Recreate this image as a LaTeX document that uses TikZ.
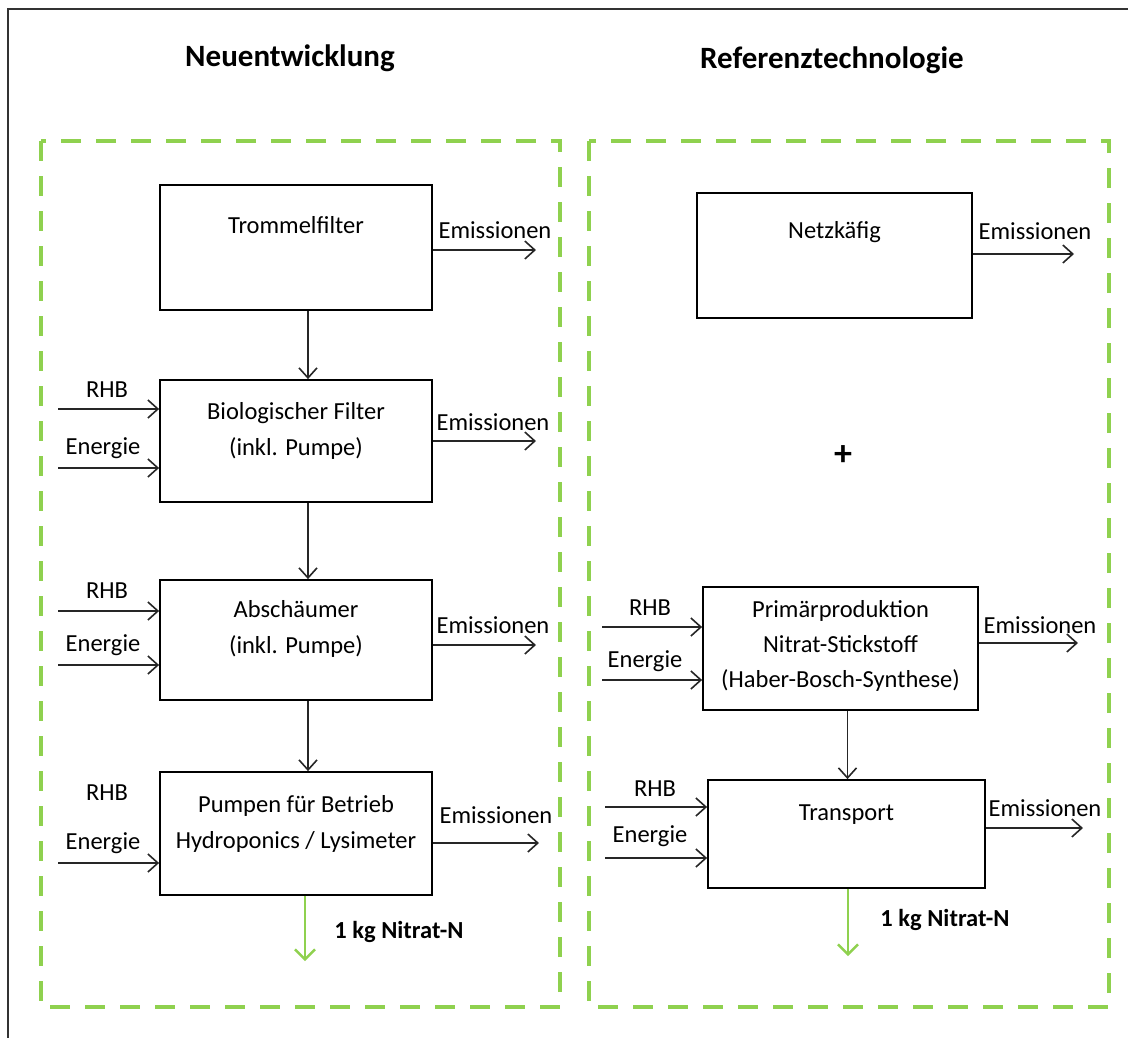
\documentclass[tikz,border=0pt]{standalone}
\usepackage{fontspec}
\setmainfont{Carlito}
\usetikzlibrary{arrows.meta,calc}
\definecolor{frameGreen}{HTML}{8FD14F}
\tikzset{
  procbox/.style={draw=black, line width=1.8pt, minimum width=#1, inner sep=0pt},
  boxtext/.style={align=center, font=\fontsize{24.5}{36}\selectfont, inner sep=0pt},
  flowlabel/.style={font=\fontsize{24.5}{30}\selectfont, inner sep=0pt},
  headline/.style={font=\bfseries\fontsize{31}{36}\selectfont, inner sep=0pt},
  resultlabel/.style={font=\bfseries\fontsize{24.5}{30}\selectfont, inner sep=0pt},
  flow/.style={draw=black!85, line width=1.5pt, -{Straight Barb[length=10pt,width=18pt,line width=1.6pt]}},
  output/.style={draw=frameGreen, line width=2.4pt, -{Straight Barb[length=10pt,width=20pt,line width=2.4pt]}},
  systemframe/.style={draw=frameGreen, line width=4pt, dash pattern=on 20pt off 15pt},
}
\begin{document}
\begin{tikzpicture}[x=1pt,y=-1pt]
\useasboundingbox (0,0) rectangle (1128,1037);
% outer frame (open towards right and bottom)
\draw[black!80, line width=2pt] (8,1040) -- (8,9) -- (1131,9);

% titles
\node[headline] (t1) at (290,58) {Neuentwicklung};
\node[headline] (t2) at (832,60) {Referenztechnologie};

% system boundaries
\draw[systemframe] (41,141) rectangle (560,1007);
\draw[systemframe] (589,141) rectangle (1109,1007);

% ---------- left column ----------
\node[procbox=272pt, minimum height=125pt] (tf) at (296,247.5) {};
\node[procbox=272pt, minimum height=122pt] (bf) at (296,441) {};
\node[procbox=272pt, minimum height=120pt] (ab) at (296,640) {};
\node[procbox=272pt, minimum height=123pt] (pu) at (296,833.5) {};

\node[boxtext] (tftx) at (296,225) {Trommelfilter};
\node[boxtext, anchor=north] (bftx) at (296,402) {Biologischer Filter\\(inkl. Pumpe)};
\node[boxtext, anchor=north] (abtx) at (296,600) {Abschäumer\\(inkl. Pumpe)};
\node[boxtext, anchor=north] (putx) at (296,795) {Pumpen für Betrieb\\Hydroponics / Lysimeter};

\draw[flow] ($(tf.south)+(12,0)$) -- ($(bf.north)+(12,0)$);
\draw[flow] ($(bf.south)+(12,0)$) -- ($(ab.north)+(12,0)$);
\draw[flow] ($(ab.south)+(12,0)$) -- ($(pu.north)+(12,0)$);

% emissions, left
\coordinate (e1) at (536,250);
\coordinate (e2) at (536,441);
\coordinate (e3) at (536,645);
\coordinate (e4) at (539,843);
\draw[flow] (tf.east |- e1) -- (e1);
\draw[flow] (bf.east |- e2) -- (e2);
\draw[flow] (ab.east |- e3) -- (e3);
\draw[flow] (pu.east |- e4) -- (e4);
\node[flowlabel] (l1) at (495,230) {Emissionen};
\node[flowlabel] (l2) at (493,422) {Emissionen};
\node[flowlabel] (l3) at (493,625) {Emissionen};
\node[flowlabel] (l4) at (496,815) {Emissionen};

% inputs, left
\coordinate (i1) at (58,409);
\coordinate (i2) at (58,468);
\coordinate (i3) at (58,611);
\coordinate (i4) at (58,665);
\coordinate (i5) at (58,863);
\draw[flow] (i1) -- (bf.west |- i1);
\draw[flow] (i2) -- (bf.west |- i2);
\draw[flow] (i3) -- (ab.west |- i3);
\draw[flow] (i4) -- (ab.west |- i4);
\draw[flow] (i5) -- (pu.west |- i5);
\node[flowlabel] (r1) at (107,390) {RHB};
\node[flowlabel] (n1) at (103,448) {Energie};
\node[flowlabel] (r2) at (107,591) {RHB};
\node[flowlabel] (n2) at (103,645) {Energie};
\node[flowlabel] (r3) at (107,793) {RHB};
\node[flowlabel] (n3) at (103,843) {Energie};

% product, left
\coordinate (o1) at (305,961);
\draw[output] (pu.south -| o1) -- (o1);
\node[resultlabel] (p1) at (399,932) {1 kg Nitrat-N};

% ---------- right column ----------
\node[procbox=275pt, minimum height=125pt] (nk) at (834.5,255.5) {};
\node[procbox=275pt, minimum height=123pt] (pp) at (840.5,648.5) {};
\node[procbox=277pt, minimum height=108pt] (tr) at (846.5,834) {};

\node[boxtext] (nktx) at (834.5,232) {Netzkäfig};
\node[boxtext, anchor=north] (pptx) at (840.5,600) {Primärproduktion\\[-1pt]Nitrat-Stickstoff\\[-1pt](Haber-Bosch-Synthese)};
\node[boxtext] (trtx) at (846.5,815) {Transport};

\node[font=\bfseries\fontsize{36}{40}\selectfont, inner sep=0pt] (plus) at (843,456) {+};

\draw[flow] ($(pp.south)+(7,0)$) -- ($(tr.north)+(1,0)$);

% emissions, right
\coordinate (e5) at (1074,254);
\coordinate (e6) at (1078,643);
\coordinate (e7) at (1083,828);
\draw[flow] (nk.east |- e5) -- (e5);
\draw[flow] (pp.east |- e6) -- (e6);
\draw[flow] (tr.east |- e7) -- (e7);
\node[flowlabel] (l5) at (1035,231) {Emissionen};
\node[flowlabel] (l6) at (1040,625) {Emissionen};
\node[flowlabel] (l7) at (1045,808) {Emissionen};

% inputs, right
\coordinate (i6) at (602,627);
\coordinate (i7) at (602,680);
\coordinate (i8) at (605,807);
\coordinate (i9) at (605,858);
\draw[flow] (i6) -- (pp.west |- i6);
\draw[flow] (i7) -- (pp.west |- i7);
\draw[flow] (i8) -- (tr.west |- i8);
\draw[flow] (i9) -- (tr.west |- i9);
\node[flowlabel] (r4) at (650,608) {RHB};
\node[flowlabel] (n4) at (645,661) {Energie};
\node[flowlabel] (r5) at (655,789) {RHB};
\node[flowlabel] (n5) at (650,836) {Energie};

% product, right
\coordinate (o2) at (848,956);
\draw[output] (tr.south -| o2) -- (o2);
\node[resultlabel] (p2) at (945,920) {1 kg Nitrat-N};
\end{tikzpicture}
\end{document}
